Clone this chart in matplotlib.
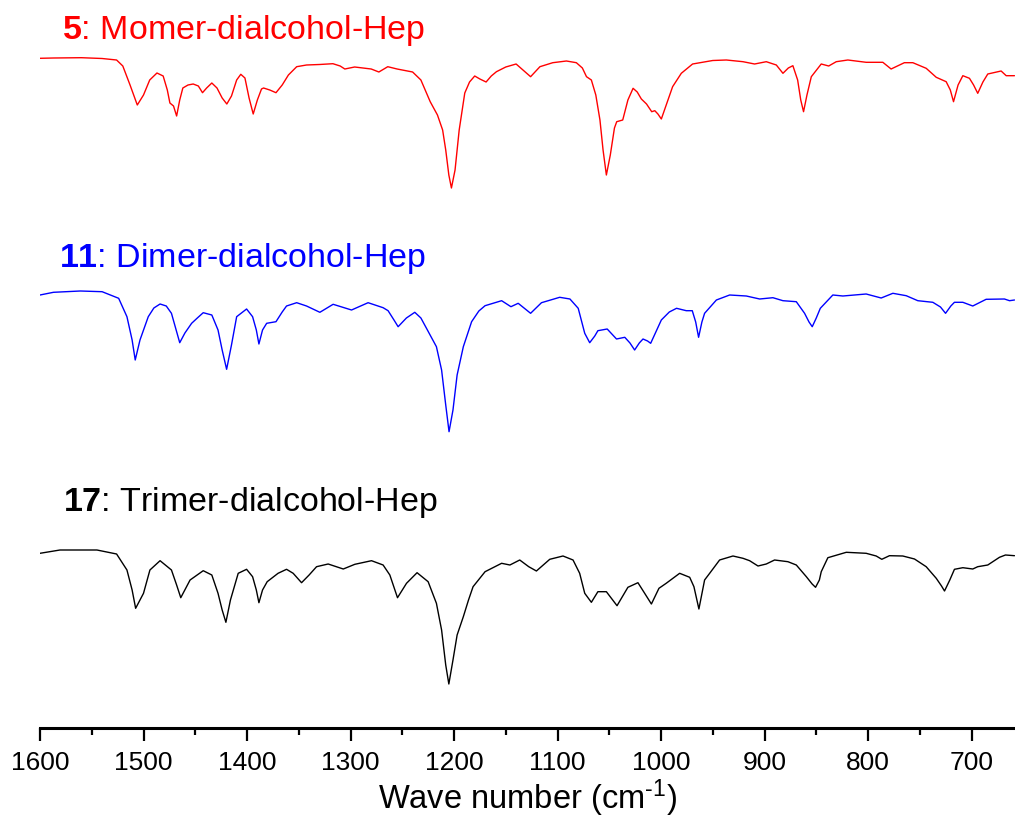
import matplotlib as mpl
mpl.use("Agg")
import matplotlib.pyplot as plt
from matplotlib.ticker import MultipleLocator


mpl.rcParams["font.family"] = ["Liberation Sans", "DejaVu Sans"]
mpl.rcParams["mathtext.fontset"] = "custom"
mpl.rcParams["mathtext.rm"] = "Liberation Sans"
mpl.rcParams["mathtext.bf"] = "Liberation Sans:bold"
mpl.rcParams["mathtext.it"] = "Liberation Sans:italic"

# band depth (arbitrary units, larger = stronger absorption)
wn_mono = [
    1600, 1587, 1560, 1540, 1526, 1520, 1513, 1506, 1500, 1494,
    1487, 1481, 1477, 1474.5, 1471, 1468, 1465, 1462, 1457, 1452,
    1447, 1443, 1439, 1434, 1429, 1424, 1419.5, 1415, 1410, 1406,
    1402, 1398, 1394, 1390, 1386, 1384, 1378, 1372, 1366, 1360,
    1352, 1342.5, 1330, 1317, 1310, 1305.5, 1296, 1280, 1272.6, 1264,
    1255, 1240, 1232, 1223, 1216, 1211, 1208, 1205, 1202.5, 1199,
    1195, 1189.6, 1185, 1180, 1175, 1169, 1164, 1159, 1150, 1140,
    1126, 1117, 1104.6, 1091.4, 1081.8, 1076, 1072, 1067.3, 1063, 1059,
    1056, 1052.8, 1049, 1045, 1042.8, 1037, 1032, 1027, 1023, 1019,
    1014, 1009, 1006, 1003, 999.7, 994, 988.8, 980.4, 969.5, 950,
    936.9, 920.8, 909.6, 898.3, 888.6, 882.2, 877, 872.6, 868, 865,
    862.3, 859, 854.8, 845.2, 838, 830.7, 819.5, 801.8, 785.7, 777.7,
    764.9, 756.7, 743.8, 734.1, 724.5, 720.5, 717.4, 713, 708.4, 702,
    698, 694, 689, 684.3, 671.4, 666.5, 658.5,
]
abs_mono = [
    8.3, 8, 7.7, 8.5, 10, 16, 35, 55, 45, 30,
    23, 26, 40, 53, 56, 66, 50, 38, 35, 34,
    36, 42.7, 38, 33, 38, 48, 54, 46, 30, 24.3,
    28, 48, 64, 50, 39, 38, 40, 42.7, 35, 25,
    16.7, 15, 14.5, 13.7, 16, 19, 17, 19, 22, 16.7,
    19, 22, 30, 51.7, 65, 80, 100, 125, 138, 120,
    80, 43, 32, 26, 29, 32, 26, 21.7, 17, 14,
    26.7, 16.7, 12.7, 11, 12.7, 18, 26.7, 30, 45, 70,
    100, 125, 105, 78, 71.7, 70, 50, 38.3, 42, 49,
    54, 61.7, 60.7, 64, 69, 52, 36.7, 23.3, 14, 10.5,
    10, 11.7, 14, 11.7, 15, 23.3, 18, 15.7, 30, 50,
    61.7, 45, 26.7, 14, 16, 11.7, 10, 12.3, 12.3, 19,
    12.7, 12.7, 18.3, 27.3, 31.7, 40, 51.7, 35, 25.7, 28.3,
    35, 43.3, 32, 24, 21, 25.7, 25.7,
]

wn_dimer = [
    1600, 1587, 1561, 1540, 1524, 1516, 1511, 1508, 1503.4, 1495.4,
    1490, 1484, 1478, 1473, 1469, 1465, 1460, 1453.5, 1448, 1442.3,
    1434, 1428, 1424, 1419.7, 1415, 1410, 1400.4, 1394.6, 1391, 1388.5,
    1385, 1381, 1372, 1366, 1361.8, 1352, 1342.5, 1329.6, 1316.8, 1299,
    1283, 1268.5, 1263.7, 1258, 1254, 1246, 1237.9, 1232, 1226.6, 1217,
    1212, 1208, 1204.8, 1201, 1197, 1191, 1183, 1176, 1170, 1154,
    1145, 1138, 1126, 1115.5, 1097.9, 1088, 1080, 1073.7, 1068.9, 1064,
    1061, 1052, 1043, 1035, 1030, 1025.5, 1021, 1017.4, 1013, 1010,
    1005, 999.7, 992, 985, 975.6, 969.8, 966.5, 963.7, 960.5, 957.9,
    946.5, 933.7, 917.6, 904.7, 891.9, 882.2, 869.3, 861.3, 857, 853.9,
    850, 846.1, 834, 824.3, 801.8, 787.3, 776, 763.1, 751.9, 737.4,
    730, 725.1, 720, 716.5, 708.4, 698.8, 685.9, 668.2, 663.3, 658.5,
]
abs_dimer = [
    5, 2.3, 1, 1.7, 8.3, 26.7, 50, 70, 50, 26.7,
    18, 14, 16, 23.3, 38, 52.7, 43, 33.3, 28, 22.7,
    25, 40, 60, 79.3, 55, 26.7, 19, 26.7, 40, 54,
    40, 33.3, 31.7, 22, 16, 12.7, 16, 22.3, 14.3, 20,
    12.7, 17.7, 20.7, 30, 36.7, 28, 22.3, 28, 38.3, 56.7,
    80, 115, 141.7, 120, 85, 56.7, 31.7, 21, 15.7, 10.7,
    16.7, 13.3, 23.3, 12.7, 7.3, 9, 18.3, 43.3, 52.7, 46,
    40.7, 39, 49, 47.3, 53, 60, 53, 49, 51, 53.3,
    42, 30, 22, 18.3, 20.7, 20.7, 32, 47.3, 32, 23.3,
    10, 5, 6, 9, 7.7, 10.7, 11.7, 23.3, 32, 36.7,
    28, 18.3, 5, 6, 4, 8, 3.3, 5.7, 10.7, 12.3,
    17, 23.3, 16, 12.3, 12.3, 16, 9.3, 9, 10.7, 10,
]

wn_trimer = [
    1600, 1580.7, 1545, 1526, 1516, 1511, 1507.6, 1500, 1493.8, 1484,
    1473, 1468, 1464, 1455, 1442.3, 1434, 1428, 1424, 1420.4, 1416,
    1408.5, 1400.4, 1394.6, 1391, 1388.5, 1385, 1380.5, 1370, 1361.8, 1355.4,
    1347.3, 1340, 1332.8, 1321.6, 1307, 1295.8, 1279.7, 1268.5, 1262, 1254.6,
    1245.9, 1235.7, 1225, 1217, 1212, 1208, 1205, 1201, 1197, 1191,
    1186, 1181.6, 1170, 1154, 1146, 1136.5, 1127.8, 1120.4, 1107.5, 1094.7,
    1085, 1078.6, 1073.7, 1067.3, 1061, 1052.8, 1042.5, 1032, 1022.3, 1015.8,
    1009.3, 1002, 995, 982, 972.3, 968.2, 963.4, 957.9, 953, 943.4,
    930.5, 920.8, 914.4, 906.3, 898.3, 890.3, 877.4, 869.3, 859.6, 854,
    850.7, 847, 845.2, 838.8, 821, 801.8, 792.1, 786.7, 779.3, 766.4,
    755.1, 743.8, 734.1, 729, 726.1, 721, 716.5, 708.4, 698.8, 694,
    684.3, 673, 667.2, 658.5,
]
abs_trimer = [
    8.3, 5, 5, 9, 25, 45, 63.3, 48.3, 25, 15.7,
    25, 40, 52.7, 35, 25.7, 30, 48.3, 65, 77.3, 55,
    28.3, 24.3, 31.7, 45, 57.7, 45, 36.7, 28.3, 24.3, 28.3,
    37.7, 30, 21.7, 19, 24, 19.3, 15.7, 20, 30, 52.7,
    38.3, 27.7, 36.7, 58.3, 85, 120, 139, 115, 90, 71.7,
    55, 41.7, 26.7, 18.3, 20, 15, 21.7, 26, 14.3, 11,
    15, 28.3, 48.3, 57.3, 46.7, 46.7, 60.7, 42.3, 37.7, 48.3,
    59, 43.3, 38.3, 28.3, 32.3, 41.7, 64, 35, 28.3, 15,
    11, 13.3, 15.7, 21, 19, 15, 16.7, 20, 31.7, 39,
    42.3, 35, 26.7, 12.7, 7.3, 8.3, 11, 14.3, 10.7, 11,
    14, 21.7, 33.3, 41, 46, 35, 24.3, 22.7, 24, 21.7,
    20, 12.3, 10, 10.7,
]

numbers = ["5", "11", "17"]
names = ["Momer-dialcohol-Hep", "Dimer-dialcohol-Hep", "Trimer-dialcohol-Hep"]
colors = ["#ff0000", "#0000ff", "#000000"]
offsets = [50, 290, 545]

fig = plt.figure(figsize=(10.15, 8.22), dpi=100)
ax = fig.add_axes([40 / 1015, 94 / 822, 975 / 1015, 728 / 822])

spectra = [(wn_mono, abs_mono), (wn_dimer, abs_dimer), (wn_trimer, abs_trimer)]
for (wn, a), off, col in zip(spectra, offsets, colors):
    ax.plot(wn, [v + off for v in a], color=col, lw=1.0,
            solid_joinstyle="round", solid_capstyle="round")

ax.set_xlim(1600, 658)
ax.set_ylim(728, 0)

for side in ["left", "right", "top"]:
    ax.spines[side].set_visible(False)
ax.spines["bottom"].set_linewidth(2.2)
ax.set_yticks([])
ax.xaxis.set_major_locator(MultipleLocator(100))
ax.xaxis.set_minor_locator(MultipleLocator(50))
ax.tick_params(axis="x", which="major", direction="out", length=9.5,
               width=1.6, labelsize=19, pad=7)
ax.tick_params(axis="x", which="minor", direction="out", length=5,
               width=1.6)
ax.set_xlabel(r"Wave number (cm$^{\text{-1}}$)", fontsize=23.5, labelpad=2)

label_pos = [(62, 39), (59, 267), (63, 511)]
for num, name, col, (x, y) in zip(numbers, names, colors, label_pos):
    fig.text(x / 1015, 1 - y / 822, r"$\mathbf{%s}$: %s" % (num, name),
             color=col, fontsize=24.5, ha="left", va="baseline")

fig.savefig("out.png", dpi=100)
